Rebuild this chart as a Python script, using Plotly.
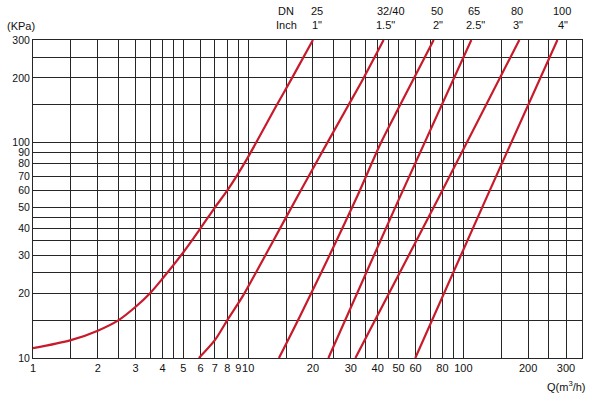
import math
import plotly.graph_objects as go

# ---- data ----
dn_labels = ["25", "32/40", "50", "65", "80", "100"]
inch_labels = ['1"', '1.5"', '2"', '2.5"', '3"', '4"']

dn25_q = [1, 1.5, 2, 2.5, 3, 3.5, 4, 5, 6, 7, 8, 9.8, 13.6, 16, 20]
dn25_p = [11.1, 12.1, 13.4, 15, 17.3, 20, 23.4, 31, 40, 50, 60, 83, 150, 200, 300]

dn32_q = [5.9, 7, 8, 9.5, 11, 15, 20.3, 29.3, 34.4, 42.6]
dn32_p = [10, 12.1, 15, 19.6, 25.5, 45, 78, 150, 200, 300]

dn50_q = [13.9, 17.5, 31.5, 41.4, 50.9, 72.8]
dn50_p = [10, 15.8, 54, 100, 150, 300]

dn65_q = [23.6, 49.9, 108.9]
dn65_p = [10, 54, 300]

dn80_q = [31.5, 75.7, 182]
dn80_p = [10, 54, 300]

dn100_q = [59.8, 126.5, 273.6]
dn100_p = [10, 54, 300]

x_labeled = [1, 2, 3, 4, 5, 6, 7, 8, 9, 10, 20, 30, 40, 50, 60, 80, 100, 200, 300]
x_unlabeled = [1.5, 2.5, 3.5, 4.5, 15, 25, 35, 45, 70, 90, 150, 250]
y_labeled = [10, 20, 30, 40, 50, 60, 70, 80, 90, 100, 200, 300]
y_unlabeled = [15, 25, 35, 45, 150, 250]

x_max = 356
y_min, y_max = 10, 300

# ---- styling ----
RED = "#c81a2a"
GRID = "#262626"
FONT = "Liberation Sans, Arial, sans-serif"

W, H = 600, 394
L, R, T, B = 33, 18, 40, 36
pw, ph = W - L - R, H - T - B


def px_x(px):
    return (px - L) / pw


def px_y(py):
    return (H - B - py) / ph


fig = go.Figure()
series = [(dn25_q, dn25_p), (dn32_q, dn32_p), (dn50_q, dn50_p),
          (dn65_q, dn65_p), (dn80_q, dn80_p), (dn100_q, dn100_p)]
for (q, p), name in zip(series, dn_labels):
    fig.add_trace(go.Scatter(
        x=q, y=p, mode="lines", name="DN" + name,
        line=dict(color=RED, width=2.2, shape="spline", smoothing=0.8),
        hoverinfo="x+y+name", showlegend=False,
    ))

fig.update_xaxes(
    type="log", range=[math.log10(1), math.log10(x_max)],
    tickmode="array", tickvals=x_labeled,
    ticktext=[f"{v:g}" for v in x_labeled], tickangle=0,
    showgrid=True, gridcolor=GRID, gridwidth=1,
    minor=dict(tickmode="array", tickvals=x_unlabeled, showgrid=True,
               gridcolor=GRID, gridwidth=1, ticks=""),
    showline=True, linecolor=GRID, linewidth=1, mirror=True,
    ticks="", zeroline=False,
    tickfont=dict(family=FONT, size=11, color="#111"),
)
fig.update_yaxes(
    type="log", range=[math.log10(y_min), math.log10(y_max)],
    tickmode="array", tickvals=y_labeled,
    ticktext=[f"{v:g}" for v in y_labeled],
    showgrid=True, gridcolor=GRID, gridwidth=1,
    minor=dict(tickmode="array", tickvals=y_unlabeled, showgrid=True,
               gridcolor=GRID, gridwidth=1, ticks=""),
    showline=True, linecolor=GRID, linewidth=1, mirror=True,
    ticks="", zeroline=False,
    tickfont=dict(family=FONT, size=10.5, color="#111"),
)

ann = []
font = dict(family=FONT, size=11, color="#111")


def add_text(text, xp, yp):
    ann.append(dict(text=text, x=px_x(xp), y=px_y(yp), xref="paper", yref="paper",
                    showarrow=False, font=font, xanchor="center", yanchor="middle"))


add_text("(KPa)", 21, 26)
add_text("Q(m<sup>3</sup>/h)", 566, 386)
add_text("DN", 286, 11)
add_text("Inch", 286, 25)
dn_px = [317, 391, 437, 474, 517, 562]
inch_px = [317, 385, 438, 475, 518, 563]
for lab, xp in zip(dn_labels, dn_px):
    add_text(lab, xp, 11)
for lab, xp in zip(inch_labels, inch_px):
    add_text(lab, xp, 25)

fig.update_layout(
    width=W, height=H,
    margin=dict(l=L, r=R, t=T, b=B),
    paper_bgcolor="white", plot_bgcolor="white",
    annotations=ann,
    font=dict(family=FONT, size=11, color="#111"),
)

fig.write_html("out.html")
